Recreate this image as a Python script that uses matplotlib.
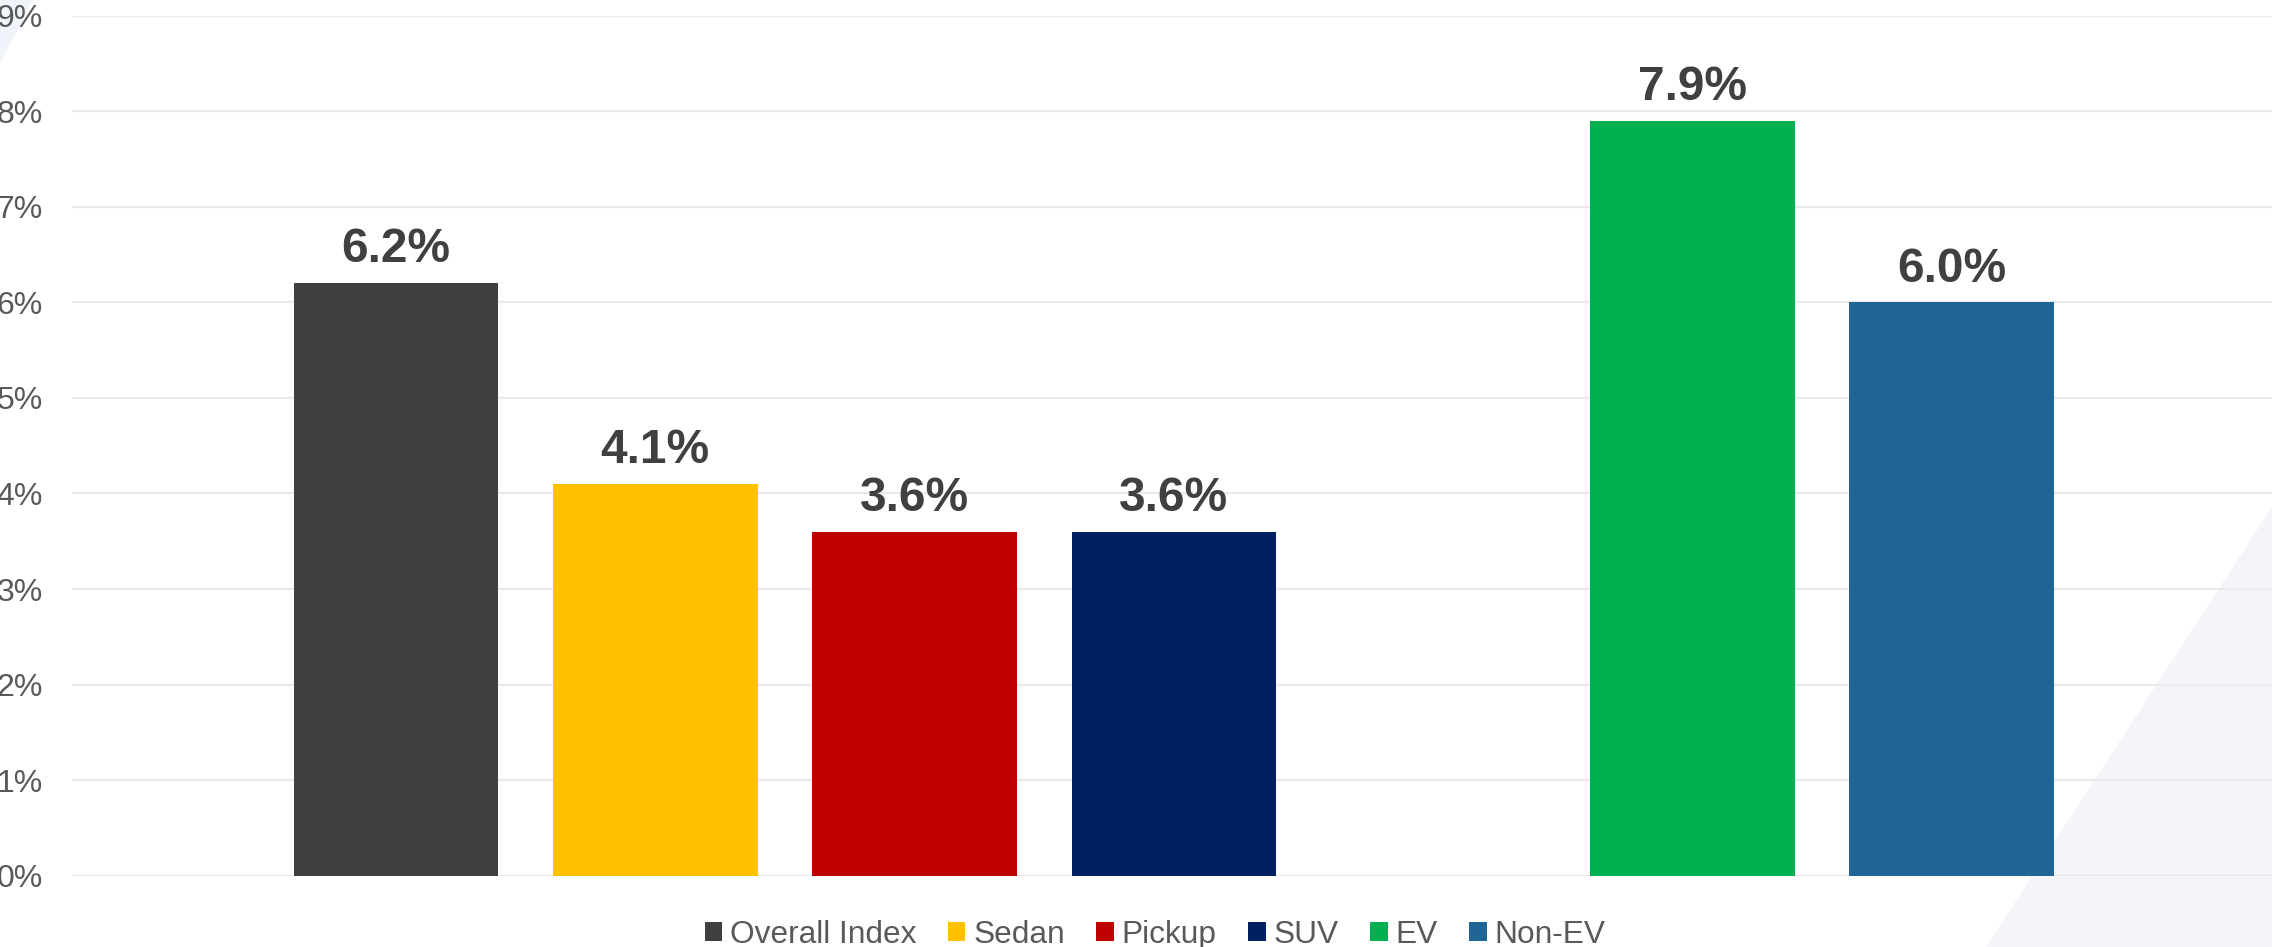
import matplotlib
matplotlib.use("Agg")
import matplotlib.pyplot as plt
from matplotlib.patches import Polygon, Patch
from matplotlib.ticker import FuncFormatter

plt.rcParams["font.family"] = ["Liberation Sans", "DejaVu Sans"]

# Year-over-year price change by segment
vehicle_groups = [["Overall Index", "Sedan", "Pickup", "SUV"], ["EV", "Non-EV"]]
group_values = [[6.2, 4.1, 3.6, 3.6], [7.9, 6.0]]
group_colors = [["#404042", "#FFC000", "#C00000", "#002060"], ["#00B050", "#1F6596"]]
y_ticks = [0, 1, 2, 3, 4, 5, 6, 7, 8, 9]

W, H = 2272, 947
fig = plt.figure(figsize=(W / 100, H / 100), dpi=100)
fig.patch.set_facecolor("white")

# decorative background wedges, kept behind everything
fig.patches.append(Polygon([(2272 / W, 1 - 507 / H), (1986 / W, 0), (1, 0)],
                           closed=True, transform=fig.transFigure,
                           facecolor="#F4F5F9", edgecolor="none", zorder=-5))
fig.patches.append(Polygon([(0, 1), (33 / W, 1), (0, 1 - 63 / H)],
                           closed=True, transform=fig.transFigure,
                           facecolor="#EEF4FA", edgecolor="none", zorder=-5))

left, right = 71.7 / W, 1.0
bottom, top = (H - 875.7) / H, (H - 15.7) / H
ax = fig.add_axes([left, bottom, right - left, top - bottom])
ax.patch.set_alpha(0)

# lay out groups with one empty slot between them
labels, values, colors, xpos = [], [], [], []
slot = 0
for names, vals, cols in zip(vehicle_groups, group_values, group_colors):
    for n, v, c in zip(names, vals, cols):
        labels.append(n)
        values.append(v)
        colors.append(c)
        xpos.append(slot)
        slot += 1
    slot += 1

ax.bar(xpos, values, width=0.789, color=colors, zorder=2)

for x, v in zip(xpos, values):
    ax.annotate(f"{v:.1f}%", (x, v), xytext=(0, 15), textcoords="offset points",
                ha="center", va="baseline", fontsize=34.5, fontweight="bold",
                color="#404040", zorder=3)

ax.set_xlim(-1.2507, 7.235)
ax.set_ylim(0, 9)
ax.set_yticks(y_ticks)
ax.yaxis.set_major_formatter(FuncFormatter(lambda v, p: f"{v:.0f}%"))
ax.set_xticks([])
ax.tick_params(axis="y", length=0, pad=21, labelsize=23, labelcolor="#595959")
for s in ax.spines.values():
    s.set_visible(False)
ax.grid(axis="y", color="#EAEAEA", linewidth=1.6, zorder=1)
ax.set_axisbelow(True)

handles = [Patch(facecolor=c, edgecolor="none", label=l) for c, l in zip(colors, labels)]
fig.legend(handles=handles, loc="center", bbox_to_anchor=(1155 / W, (H - 935) / H),
           ncol=len(handles), frameon=False, fontsize=22.8, labelcolor="#595959",
           handlelength=0.555, handleheight=0.555, handletextpad=0.24,
           columnspacing=1.0, borderaxespad=0, borderpad=0)

fig.savefig("out.png", dpi=100, facecolor="white")
